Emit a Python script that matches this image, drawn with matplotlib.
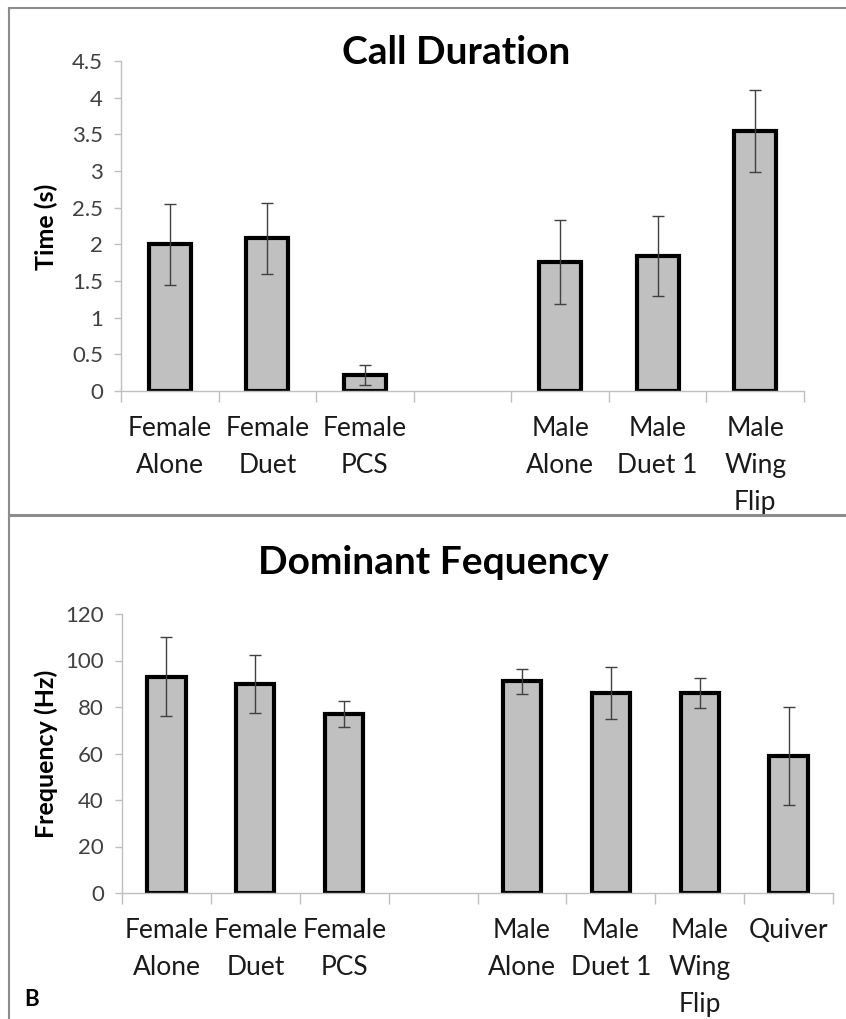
import numpy as np
import matplotlib
matplotlib.use("Agg")
import matplotlib.pyplot as plt
from matplotlib.lines import Line2D

plt.rcParams['font.family'] = ['Lato', 'DejaVu Sans']

# call duration (top panel)
dur_labels = ["Female\nAlone", "Female\nDuet", "Female\nPCS", "",
              "Male\nAlone", "Male\nDuet 1", "Male\nWing\nFlip"]
dur_mean = [2.00, 2.08, 0.22, np.nan, 1.76, 1.84, 3.55]
dur_err = [0.55, 0.48, 0.14, np.nan, 0.57, 0.54, 0.56]

# dominant frequency (bottom panel)
freq_labels = ["Female\nAlone", "Female\nDuet", "Female\nPCS", "",
               "Male\nAlone", "Male\nDuet 1", "Male\nWing\nFlip", "Quiver"]
freq_mean = [93, 90, 77, np.nan, 91, 86, 86, 59]
freq_err = [17, 12.5, 5.5, np.nan, 5.5, 11, 6.5, 21]

GRID = "#bfbfbf"
BAR = "#c0c0c0"
W, H = 846, 1019


def draw_panel(ax, labels, means, errs, ymax, ystep, ylabel, ylabel_y, title, title_xy):
    x = np.arange(len(labels))
    ax.bar(x, means, width=0.43, color=BAR, edgecolor="black", linewidth=3, zorder=2)
    ax.errorbar(x, means, yerr=errs, fmt="none", ecolor="#404040",
                elinewidth=1, capsize=4, capthick=1, zorder=3)
    ax.set_xlim(-0.5, len(labels) - 0.5)
    ax.set_ylim(0, ymax)
    ticks = np.arange(0, ymax + ystep / 2, ystep)
    ax.set_yticks(ticks)
    ax.set_yticklabels([f"{t:g}" for t in ticks], fontsize=16, color="#404040")
    ax.set_xticks(x)
    ax.set_xticklabels(labels, fontsize=19, color="#1a1a1a", linespacing=1.6, va="top")
    ax.set_xticks(np.arange(-0.5, len(labels)), minor=True)
    ax.tick_params(axis="x", which="major", length=0, pad=18)
    ax.tick_params(axis="x", which="minor", length=8, color=GRID, width=1)
    ax.tick_params(axis="y", length=5, color=GRID, width=1, pad=8)
    for s in ("top", "right"):
        ax.spines[s].set_visible(False)
    for s in ("left", "bottom"):
        ax.spines[s].set_color(GRID)
        ax.spines[s].set_linewidth(1)
    fig = ax.figure
    fig.text(46 / W, 1 - ylabel_y / H, ylabel, fontsize=18, fontweight="bold",
             rotation=90, ha="center", va="center")
    fig.text(title_xy[0] / W, 1 - title_xy[1] / H, title,
             fontsize=28, fontweight="bold", ha="center", va="center")


fig = plt.figure(figsize=(W / 100, H / 100), dpi=100)

ax1 = fig.add_axes([121 / W, 1 - 391 / H, (804 - 121) / W, (391 - 61) / H])
draw_panel(ax1, dur_labels, dur_mean, dur_err, 4.5, 0.5, "Time (s)", 227,
           "Call Duration", (456, 52))

ax2 = fig.add_axes([122 / W, 1 - 893 / H, (833 - 122) / W, (893 - 614) / H])
draw_panel(ax2, freq_labels, freq_mean, freq_err, 120, 20, "Frequency (Hz)", 754,
           "Dominant Fequency", (433, 563))

# frame lines around the panels
frame = dict(transform=fig.transFigure, color="#8c8c8c")
fig.add_artist(Line2D([9 / W, 9 / W], [0, 1 - 8 / H], lw=1.5, **frame))
fig.add_artist(Line2D([9 / W, 1], [1 - 8 / H, 1 - 8 / H], lw=1.5, **frame))
fig.add_artist(Line2D([9 / W, 1], [1 - 515 / H, 1 - 515 / H], lw=2.2, **frame))

fig.text(32 / W, 1 - 999 / H, "B", fontsize=16, fontweight="bold", ha="center", va="center")

fig.savefig("out.png", dpi=100)
